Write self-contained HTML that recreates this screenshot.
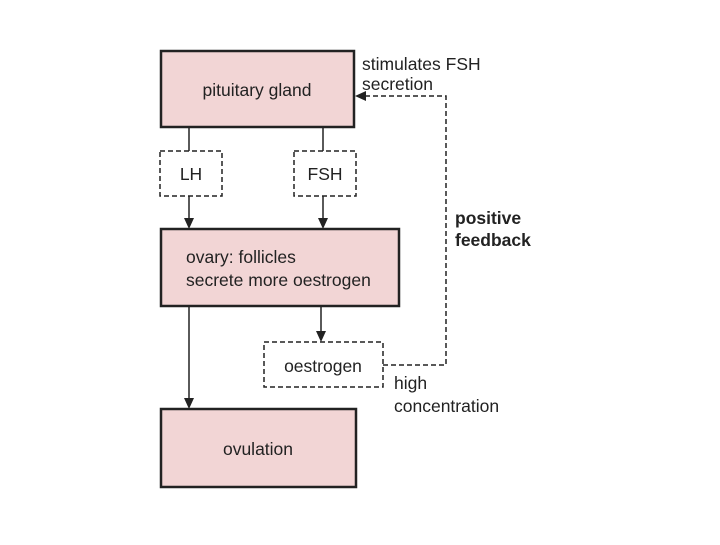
<!DOCTYPE html>
<html><head><style>body{margin:0;background:#fff}</style></head><body>
<svg width="720" height="540" viewBox="0 0 720 540" xmlns="http://www.w3.org/2000/svg" font-family="Liberation Sans, sans-serif" font-size="17.5" fill="#222">
<g stroke="#222" stroke-width="2.5" fill="#f2d5d5">
<rect x="161" y="51" width="193" height="76"/>
<rect x="161" y="229" width="238" height="77"/>
<rect x="161" y="409" width="195" height="78"/>
</g>
<g stroke="#222" stroke-width="1.5" fill="#fff" stroke-dasharray="5,3">
<rect x="160" y="151" width="62" height="45"/>
<rect x="294" y="151" width="62" height="45"/>
<rect x="264" y="342" width="119" height="45"/>
<polyline points="383,365 446,365 446,96 366,96" fill="none"/>
</g>
<g stroke="#222" stroke-width="1.5">
<line x1="189" y1="127" x2="189" y2="151"/>
<line x1="323" y1="127" x2="323" y2="151"/>
<line x1="189" y1="196" x2="189" y2="220"/>
<line x1="323" y1="196" x2="323" y2="220"/>
<line x1="321" y1="306" x2="321" y2="333"/>
<line x1="189" y1="306" x2="189" y2="400"/>
</g>
<g fill="#222">
<path d="M184,218 L194,218 L189,229 Z"/>
<path d="M318,218 L328,218 L323,229 Z"/>
<path d="M316,331 L326,331 L321,342 Z"/>
<path d="M184,398 L194,398 L189,409 Z"/>
<path d="M366,91 L366,101 L355,96 Z"/>
</g>
<text x="257" y="96" text-anchor="middle">pituitary gland</text>
<text x="191" y="180" text-anchor="middle">LH</text>
<text x="325" y="180" text-anchor="middle">FSH</text>
<text x="186" y="263">ovary: follicles</text>
<text x="186" y="286">secrete more oestrogen</text>
<text x="323" y="372" text-anchor="middle">oestrogen</text>
<text x="258" y="455" text-anchor="middle">ovulation</text>
<text x="362" y="70">stimulates FSH</text>
<text x="362" y="90">secretion</text>
<text x="455" y="224" font-weight="bold">positive</text>
<text x="455" y="246" font-weight="bold">feedback</text>
<text x="394" y="389">high</text>
<text x="394" y="412">concentration</text>
</svg>
</body></html>
